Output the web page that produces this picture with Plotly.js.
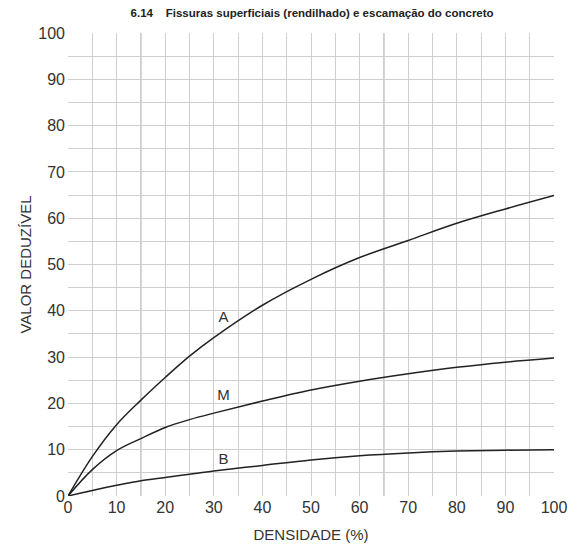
<!DOCTYPE html>
<html>
<head>
<meta charset="utf-8">
<script src="https://cdn.plot.ly/plotly-3.0.1.min.js"></script>
<style>
  html, body { margin: 0; padding: 0; background: #fff; }
  #chart { width: 578px; height: 548px; }
</style>
</head>
<body>
<div id="chart"></div>
<script>
// Densidade (%) e valores deduzíveis por nível de severidade
const densidade = [0, 5, 10, 15, 20, 25, 30, 40, 50, 60, 70, 80, 90, 100];
const curvaA = [0, 8.5, 15.4, 20.7, 25.6, 30.2, 34.2, 41.2, 46.8, 51.5, 55.2, 58.9, 62.0, 64.9];
const curvaM = [0, 5.7, 9.8, 12.4, 14.8, 16.5, 17.9, 20.5, 22.9, 24.8, 26.4, 27.8, 28.9, 29.8];
const curvaB = [0, 1.2, 2.3, 3.3, 4.0, 4.7, 5.4, 6.6, 7.8, 8.7, 9.3, 9.7, 9.9, 10.0];

const rotulos = ["A", "M", "B"];
const rotuloX = [32, 32, 32];
const rotuloY = [38.5, 21.5, 7.7];

const ticks = [0, 10, 20, 30, 40, 50, 60, 70, 80, 90, 100];
const linhasFortes = [15, 65];

const fonte = "Liberation Sans, Arial, sans-serif";
const tickFont = { family: fonte, size: 16, color: "#333" };
const gridCor = "#cfcfcf";

function curva(y) {
  return {
    x: densidade, y: y, type: "scatter", mode: "lines",
    line: { color: "#222", width: 1.5, shape: "spline", smoothing: 1 },
    hoverinfo: "skip", showlegend: false
  };
}

const traces = [
  curva(curvaA), curva(curvaM), curva(curvaB),
  {
    x: rotuloX, y: rotuloY, text: rotulos, type: "scatter", mode: "text",
    textfont: { family: fonte, size: 15, color: "#333" },
    textposition: "middle center", showlegend: false, hoverinfo: "skip"
  }
];

const shapes = linhasFortes.map(v => ({
  type: "line", xref: "x", yref: "y", x0: v, x1: v, y0: 0, y1: 100,
  line: { color: "#9a9a9a", width: 1 }, layer: "below"
}));

const layout = {
  width: 578, height: 548,
  margin: { l: 68, r: 24, t: 33, b: 52 },
  paper_bgcolor: "#fff", plot_bgcolor: "#fff",
  title: {
    text: "<b>6.14    Fissuras superficiais (rendilhado) e escamação do concreto</b>",
    font: { family: fonte, size: 11.5, color: "#222" },
    x: 0.54, xanchor: "center", y: 0.977, yanchor: "middle"
  },
  xaxis: {
    range: [0, 100], tickvals: ticks, ticktext: ticks.map(String),
    showgrid: true, gridcolor: gridCor, gridwidth: 1,
    minor: { dtick: 5, showgrid: true, gridcolor: gridCor, gridwidth: 1 },
    zeroline: false, showline: false, ticks: "",
    tickfont: tickFont, ticklabelstandoff: 0,
    title: { text: "DENSIDADE (%)", font: { family: fonte, size: 15, color: "#333" }, standoff: 14 },
    fixedrange: true
  },
  yaxis: {
    range: [0, 100], tickvals: ticks, ticktext: ticks.map(String),
    showgrid: true, gridcolor: gridCor, gridwidth: 1,
    minor: { dtick: 5, showgrid: true, gridcolor: gridCor, gridwidth: 1 },
    zeroline: false, showline: false, ticks: "",
    tickfont: tickFont, ticklabelstandoff: 2,
    title: { text: "VALOR DEDUZÍVEL", font: { family: fonte, size: 15, color: "#333" }, standoff: 3 },
    fixedrange: true
  },
  shapes: shapes
};

Plotly.newPlot("chart", traces, layout, { displayModeBar: false, staticPlot: true });
</script>
</body>
</html>
